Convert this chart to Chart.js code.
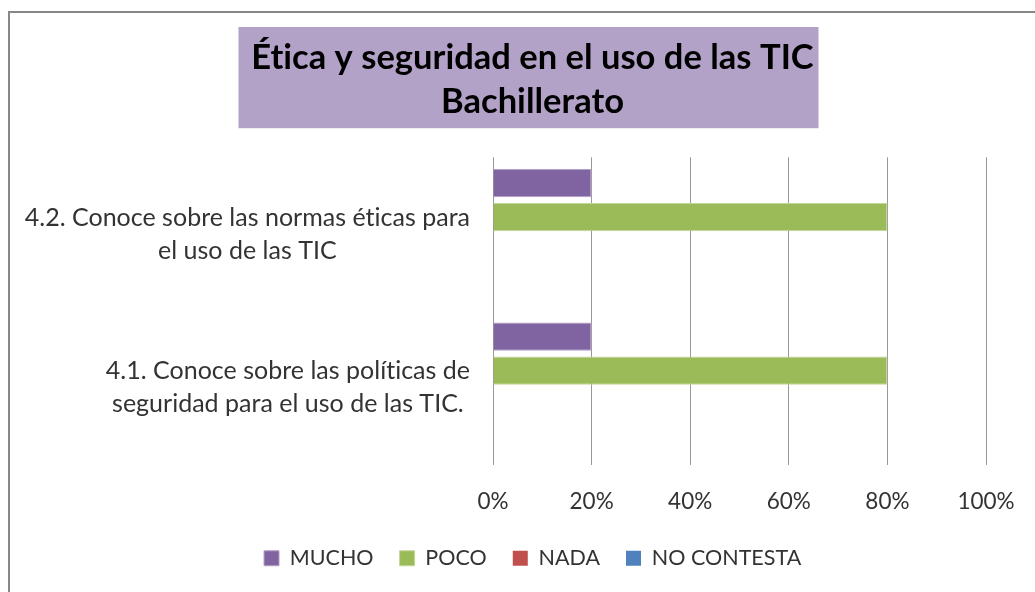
<!DOCTYPE html>
<html>
<head>
<meta charset="utf-8">
<script src="https://cdn.jsdelivr.net/npm/chart.js@4"></script>
<style>
  html, body { margin: 0; padding: 0; background: #fff; overflow: hidden; }
  #box { position: absolute; left: 8px; top: 11px; width: 1045px; height: 600px; border: 2px solid #878787; }
</style>
</head>
<body>
<div id="box"><canvas id="chart" width="1045" height="600"></canvas></div>
<script>
const titleLines = ['Ética y seguridad en el uso de las TIC', 'Bachillerato'];
const categories = [
    ['4.2. Conoce sobre las normas éticas para', 'el uso de las TIC'],
    ['4.1. Conoce sobre las políticas de', 'seguridad para el uso de las TIC.']
];
const mucho = [20, 20];
const poco = [80, 80];
const nada = [0, 0];
const noContesta = [0, 0];
const xTicks = [0, 20, 40, 60, 80, 100];

const FONT = 'Lato';

// purple box behind the title
const titleBox = {
    id: 'titleBox',
    beforeDraw(chart) {
        const c = chart.ctx, t = chart.titleBlock;
        // tiny spacing keeps Lato from joining "ti"
        c.letterSpacing = '0.01px';
        const cx = chart.width / 2 - 4;
        c.save();
        c.fillStyle = '#B3A2C7';
        c.fillRect(cx - 290, t.top + 14, 580, t.bottom - t.top - 43);
        c.restore();
    }
};

// y labels: right-aligned block, lines centered inside it
const yLabels = {
    id: 'yLabels',
    afterDraw(chart) {
        const c = chart.ctx, y = chart.scales.y;
        c.save();
        c.font = '25px ' + FONT;
        c.letterSpacing = '0.01px';
        c.fillStyle = '#333';
        c.textAlign = 'center';
        c.textBaseline = 'middle';
        const right = y.right - 23;
        categories.forEach((lines, i) => {
            const w = Math.max(...lines.map(l => c.measureText(l).width));
            const cy = y.getPixelForTick(i);
            const lh = 33;
            lines.forEach((l, j) => {
                c.fillText(l, right - w / 2, cy + (j - (lines.length - 1) / 2) * lh);
            });
        });
        c.restore();
    }
};

new Chart(document.getElementById('chart'), {
    type: 'bar',
    data: {
        labels: categories,
        datasets: [
            { label: 'MUCHO', data: mucho, backgroundColor: '#8064A2', borderColor: '#B3A2C7', borderWidth: 1 },
            { label: 'POCO', data: poco, backgroundColor: '#9BBB59', borderColor: '#C3D69B', borderWidth: 1 },
            { label: 'NADA', data: nada, backgroundColor: '#C0504D', borderWidth: 0 },
            { label: 'NO CONTESTA', data: noContesta, backgroundColor: '#4F81BD', borderWidth: 0 }
        ]
    },
    options: {
        indexAxis: 'y',
        responsive: false,
        animation: false,
        barPercentage: 0.83,
        categoryPercentage: 0.885,
        layout: { padding: { left: 0, right: 0, top: 0, bottom: 34 } },
        plugins: {
            title: {
                display: true,
                text: titleLines,
                color: '#000',
                font: { family: FONT, size: 34.5, weight: 'bold', lineHeight: 1.3 },
                padding: { top: 22, bottom: 32.5 }
            },
            legend: {
                position: 'bottom',
                labels: {
                    boxWidth: 15, boxHeight: 15, padding: 26,
                    color: '#333',
                    font: { family: FONT, size: 21.5 }
                }
            },
            tooltip: { enabled: false }
        },
        scales: {
            x: {
                min: 0, max: 100,
                afterBuildTicks: s => { s.ticks = xTicks.map(v => ({ value: v })); },
                afterFit: s => { s.height = 57; s.paddingRight = 69; },
                grid: { color: '#999', lineWidth: 1, drawTicks: false },
                border: { display: false },
                ticks: { padding: 24, color: '#333', font: { family: FONT, size: 22.5 }, callback: v => v + '%' }
            },
            y: {
                afterFit: s => { s.width = 483; },
                grid: { display: false },
                border: { display: false },
                ticks: { color: 'rgba(0,0,0,0)', font: { family: FONT, size: 20 } }
            }
        }
    },
    plugins: [titleBox, yLabels]
});
</script>
</body>
</html>
